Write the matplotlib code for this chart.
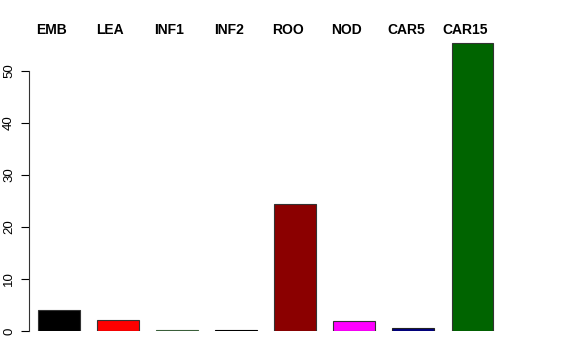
import matplotlib
matplotlib.use("Agg")
import matplotlib.pyplot as plt

# tissues and values
tissues = ["EMB", "LEA", "INF1", "INF2", "ROO", "NOD", "CAR5", "CAR15"]
values = [4.0, 2.1, 0.2, 0.2, 24.4, 1.85, 0.55, 55.4]
colors = ["black", "red", "#3a5f3a", "black", "#8B0000", "magenta", "#000080", "#006400"]
edges = ["#333333", "#333333", "#3a5f3a", "black", "#333333", "#333333", "#222222", "#333333"]
yticks = [0, 10, 20, 30, 40, 50]

plt.rcParams["font.family"] = ["Liberation Sans", "DejaVu Sans"]

fig = plt.figure(figsize=(5.76, 3.6), dpi=100)
# axes placed so the axis line sits near x=29px, y=0 at 29px from the bottom
ax = fig.add_axes([29 / 576, 29 / 360, (560 - 29) / 576, 57 * 5.2 / 360])

x = list(range(len(tissues)))
ax.bar(x, values, width=0.71, color=colors, edgecolor=edges, linewidth=0.8)

ax.set_xlim(-(59 - 29) / 59.07, (560 - 59) / 59.07)
ax.set_ylim(0, 57)

for s in ["top", "right", "bottom"]:
    ax.spines[s].set_visible(False)
ax.spines["left"].set_bounds(0, 50)
ax.spines["left"].set_linewidth(0.8)
ax.spines["left"].set_color("#333333")

ax.set_xticks([])
ax.set_yticks(yticks)
ax.set_yticklabels([str(t) for t in yticks], rotation=90, va="center", fontsize=9.5)
ax.tick_params(axis="y", length=6, width=0.8, pad=4, colors="black")

# tissue names across the top
for i, name in enumerate(tissues):
    ax.annotate(name, xy=(i, 1 - 30 / 360), xycoords=("data", "figure fraction"),
                xytext=(-5.5, 0), textcoords="offset points",
                ha="center", va="center", fontsize=10, fontweight="bold")

fig.savefig("out.png", dpi=100)
